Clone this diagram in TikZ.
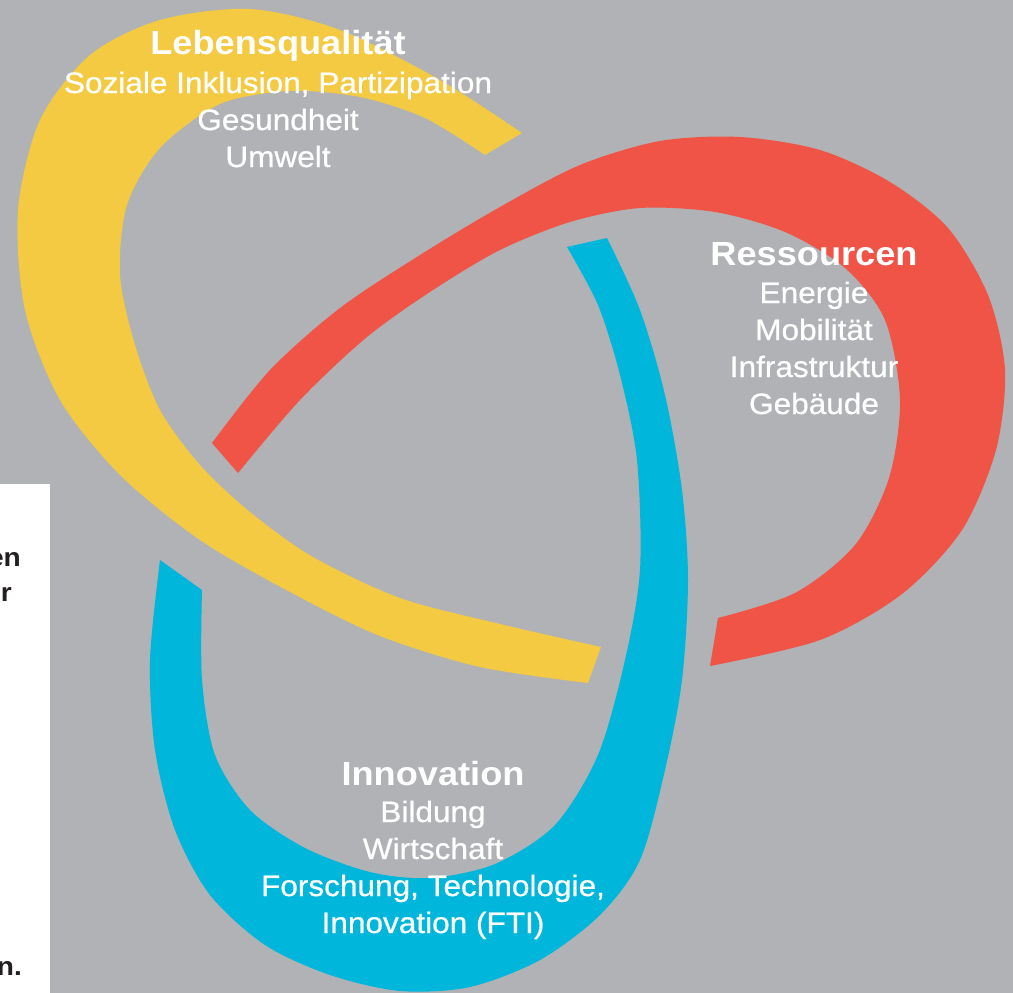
\documentclass[tikz,border=0pt]{standalone}
\usepackage{fontspec}
\setmainfont{Liberation Sans}[FakeStretch=1.08]
\newfontfamily\itemfont{Liberation Sans}[FakeStretch=1.07, FakeBold=0.7]
\usepackage{tikz}
\definecolor{bggray}{RGB}{176,178,181}
\definecolor{qyellow}{RGB}{243,202,66}
\definecolor{qred}{RGB}{240,84,70}
\definecolor{qblue}{RGB}{0,182,219}
\definecolor{sideink}{RGB}{35,31,32}
\tikzstyle{titletext} = [text=white, font=\bfseries\fontsize{33.5}{37}\selectfont, anchor=base, inner sep=0pt]
\tikzstyle{itemtext} = [text=white, font=\itemfont\fontsize{29.5}{37}\selectfont, anchor=base, inner sep=0pt]
\tikzstyle{sidetext} = [text=sideink, font=\bfseries\fontsize{26}{30}\selectfont, anchor=base east, inner sep=0pt]
\tikzstyle{band} = [draw=none]

\begin{document}
\begin{tikzpicture}[x=1pt, y=-1pt]
    \useasboundingbox (0,0) rectangle (1013,993);
    \fill[bggray] (0,0) rectangle (1013,993);
    \fill[white] (0,484) rectangle (50,993);

    % yellow loop
    \fill[band, qyellow] plot[smooth] coordinates {(522,133) (440,80) (340,30) (250,9) (160,20) (90,55) (40,120) (18,210) (25,310) (60,400) (120,475) (200,540) (290,592) (380,636) (480,667) (588,683)}
        -- plot[smooth] coordinates {(601,647) (500,624) (400,598) (313,557) (250,512) (200,465) (160,410) (135,345) (120,275) (127,205) (160,148) (220,104) (290,91) (360,97) (425,118) (485,155)} -- cycle;

    % red loop
    \fill[band, qred] plot[smooth] coordinates {(212,443) (270,370) (340,308) (420,255) (500,207) (580,165) (660,141) (740,137) (820,150) (890,182) (948,228) (988,295) (1005,370) (996,450) (962,530) (902,594) (820,640) (710,666)}
        -- plot[smooth] coordinates {(718,618) (795,593) (855,545) (889,478) (900,400) (885,320) (845,268) (785,232) (715,212) (640,208) (570,222) (500,250) (433,290) (367,337) (300,400) (238,473)} -- cycle;

    % blue loop
    \fill[band, qblue] plot[smooth] coordinates {(607,238) (640,310) (665,395) (682,490) (688,580) (682,680) (665,770) (640,860) (600,915) (540,960) (470,987) (400,991) (330,975) (265,945) (210,895) (175,830) (155,750) (150,660) (160,560)}
        -- plot[smooth] coordinates {(202,590) (202,680) (215,755) (250,810) (305,848) (370,872) (430,878) (495,864) (555,825) (598,755) (625,660) (640,570) (637,460) (620,375) (598,305) (567,247)} -- cycle;

    % labels
    \node[titletext] (leb) at (278,54) {Lebensqualität};
    \foreach \txt [count=\i] in {{Soziale Inklusion, Partizipation}, Gesundheit, Umwelt}
        \node[itemtext] (leb\i) at (278,{56+37*\i}) {\txt};

    \node[titletext] (res) at (814,265) {Ressourcen};
    \foreach \txt [count=\i] in {Energie, Mobilität, Infrastruktur, Gebäude}
        \node[itemtext] (res\i) at (814,{266+37*\i}) {\txt};

    \node[titletext] (inn) at (433,785) {Innovation};
    \foreach \txt [count=\i] in {Bildung, Wirtschaft, {Forschung, Technologie,}, {Innovation (FTI)}}
        \node[itemtext] (inn\i) at (433,{785+37*\i}) {\txt};

    % cut-off column text
    \node[sidetext] (side1) at (21,566) {en};
    \node[sidetext] (side2) at (12,601) {r};
    \node[sidetext] (side3) at (22,975) {n.};
\end{tikzpicture}
\end{document}
